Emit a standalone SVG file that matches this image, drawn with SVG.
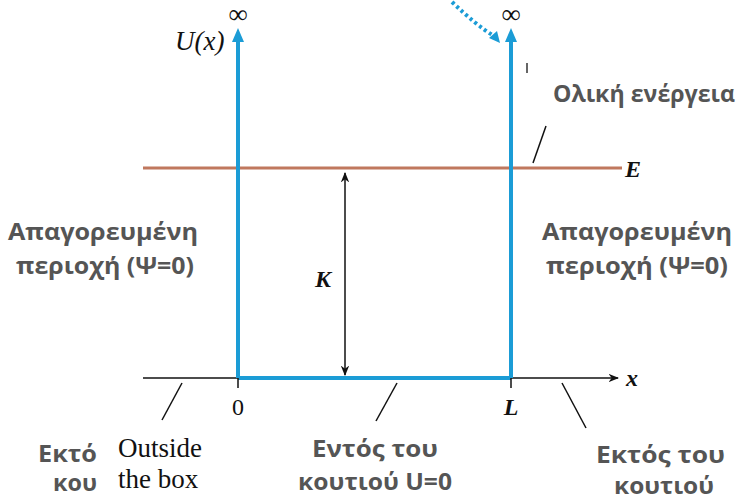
<svg xmlns="http://www.w3.org/2000/svg" width="737" height="497" viewBox="0 0 737 497">
<defs>
<style>
.g{font-family:"Open Sans","Liberation Sans",Arial,sans-serif;font-weight:bold;fill:#555;font-size:23px}
.m{font-family:"Liberation Serif","Times New Roman",serif;fill:#111}
.mi{font-family:"Liberation Serif","Times New Roman",serif;font-style:italic;font-weight:bold;fill:#111}
.wall{stroke:#1b9cd6;stroke-width:4;fill:none}
.thin{stroke:#111;stroke-width:1.5;fill:none}
</style>
<marker id="ak" viewBox="0 0 10 10" refX="9" refY="5" markerWidth="7" markerHeight="7" orient="auto-start-reverse"><path d="M0,1L10,5L0,9L3,5z" fill="#111"/></marker>
</defs>
<rect width="737" height="497" fill="#fff"/>
<g id="connectors">
<line x1="143" y1="168" x2="622" y2="168" stroke="#c0785e" stroke-width="3"/>
<line x1="143" y1="378" x2="618" y2="378" class="thin" stroke-width="2" marker-end="url(#ak)"/>
<line x1="345" y1="173" x2="345" y2="375" class="thin" marker-start="url(#ak)" marker-end="url(#ak)"/>
<path d="M238,378V34M511,378V34M238,378H511" class="wall"/>
<path d="M238,28l-6,14h12z M511,28l-6,14h12z" fill="#1b9cd6"/>
<line x1="238" y1="378" x2="238" y2="388" class="thin"/>
<line x1="511" y1="378" x2="511" y2="388" class="thin"/>
<path d="M452,2Q476,25 494,36" stroke="#1b9cd6" stroke-width="4" stroke-dasharray="3,3" fill="none"/>
<path d="M489,38l11,5l-3,-12z" fill="#1b9cd6"/>
<line x1="182" y1="383" x2="162" y2="420" class="thin"/>
<line x1="397" y1="383" x2="376" y2="421" class="thin"/>
<line x1="562" y1="383" x2="586" y2="428" class="thin"/>
<line x1="533" y1="163" x2="546" y2="126" class="thin"/>
</g>
<g id="axis-labels">
<text class="m" x="175" y="50" font-size="27" font-style="italic">U(x)</text>
<text class="m" x="238" y="23" font-size="27" text-anchor="middle">∞</text>
<text class="m" x="511" y="23" font-size="27" text-anchor="middle">∞</text>
<text class="mi" x="625" y="177" font-size="24">E</text>
<text class="mi" x="626" y="386" font-size="24">x</text>
<text class="m" x="238" y="415" font-size="24" text-anchor="middle">0</text>
<text class="mi" x="511" y="415" font-size="24" text-anchor="middle">L</text>
<text class="mi" x="315" y="287" font-size="24">K</text>
</g>
<g id="total-energy">
<rect x="526" y="62" width="210" height="56" fill="#fff"/>
<line x1="527" y1="63" x2="527" y2="73" stroke="#333" stroke-width="1.5"/>
<text class="g" x="553" y="102" font-size="24" textLength="182" lengthAdjust="spacingAndGlyphs">Ολική ενέργεια</text>
</g>
<g id="forbidden-left">
<text class="g" x="8" y="240" textLength="190" lengthAdjust="spacingAndGlyphs">Απαγορευμένη</text>
<text class="g" x="16" y="274" textLength="178" lengthAdjust="spacingAndGlyphs">περιοχή (Ψ=0)</text>
</g>
<g id="forbidden-right">
<text class="g" x="542" y="240" textLength="190" lengthAdjust="spacingAndGlyphs">Απαγορευμένη</text>
<text class="g" x="546" y="274" textLength="182" lengthAdjust="spacingAndGlyphs">περιοχή (Ψ=0)</text>
</g>
<g id="outside-left">
<text class="g" x="38" y="462" font-size="22" textLength="59" lengthAdjust="spacingAndGlyphs">Εκτό</text>
<text class="g" x="53" y="491" font-size="22" textLength="44" lengthAdjust="spacingAndGlyphs">κου</text>
<text class="m" x="118" y="457" font-size="27">Outside</text>
<text class="m" x="118" y="488" font-size="27">the box</text>
</g>
<g id="inside">
<text class="g" x="312" y="457" font-size="22" textLength="126" lengthAdjust="spacingAndGlyphs">Εντός του</text>
<text class="g" x="298" y="490" font-size="22" textLength="154" lengthAdjust="spacingAndGlyphs">κουτιού U=0</text>
</g>
<g id="outside-right">
<text class="g" x="596" y="463" font-size="22" textLength="129" lengthAdjust="spacingAndGlyphs">Εκτός του</text>
<text class="g" x="614" y="494" font-size="22" textLength="100" lengthAdjust="spacingAndGlyphs">κουτιού</text>
</g>
</svg>
